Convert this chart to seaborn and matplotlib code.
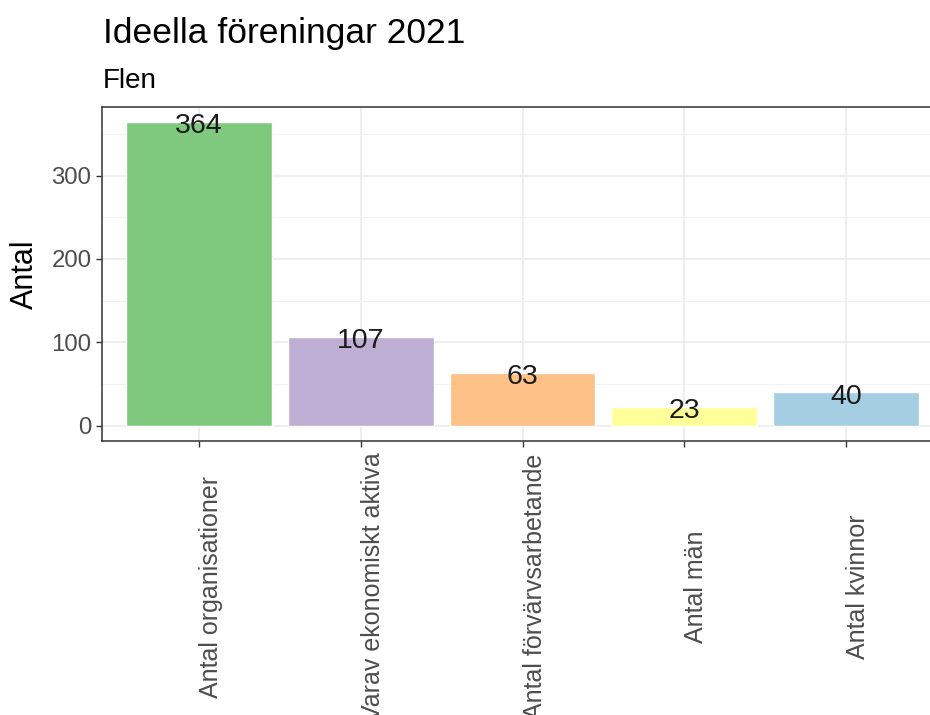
import matplotlib
matplotlib.use("Agg")
import matplotlib.pyplot as plt
import matplotlib.transforms as mtransforms
import seaborn as sns
import pandas as pd
from matplotlib.ticker import MultipleLocator

categories = ["Antal organisationer", "Varav ekonomiskt aktiva",
              "Antal förvärvsarbetande", "Antal män", "Antal kvinnor"]
values = [364, 107, 63, 23, 40]
colors = ["#7FC97F", "#BEAED4", "#FDC086", "#FFFF99", "#A6CEE3"]
title = "Ideella föreningar 2021"
subtitle = "Flen"
ylabel = "Antal"

sns.set_theme(style="white")
plt.rcParams["font.family"] = ["Liberation Sans", "DejaVu Sans"]

df = pd.DataFrame({"cat": categories, "val": values})

W, H = 930, 715
fig = plt.figure(figsize=(W / 100, H / 100), dpi=100)
left, right, top, bottom = 102, 943, 107, 441
ax = fig.add_axes([left / W, 1 - bottom / H, (right - left) / W, (bottom - top) / H])

sns.barplot(data=df, x="cat", y="val", hue="cat", palette=colors,
            order=categories, hue_order=categories, width=0.9,
            legend=False, saturation=1, ax=ax, zorder=2)

ax.set_xlim(-0.6, len(categories) - 0.4)
ax.set_ylim(-18.2, 382.2)
ax.yaxis.set_major_locator(MultipleLocator(100))
ax.yaxis.set_minor_locator(MultipleLocator(50))

ax.grid(True, which="major", color="#EBEBEB", linewidth=1.2, zorder=0)
ax.grid(True, which="minor", axis="y", color="#F2F2F2", linewidth=0.7, zorder=0)
ax.set_axisbelow(True)

for s in ax.spines.values():
    s.set_color("#333333")
    s.set_linewidth(1.1)

ax.tick_params(axis="both", which="major", length=4, width=1, color="#333333",
               labelcolor="#4D4D4D", direction="out")
ax.tick_params(axis="y", which="major", labelsize=17.3)
ax.tick_params(axis="x", which="major", labelsize=18, pad=101)
ax.tick_params(axis="y", which="minor", length=0)
ax.tick_params(left=True, bottom=True)
shift = mtransforms.ScaledTranslation(12 / 100, 0, fig.dpi_scale_trans)
for lbl in ax.get_xticklabels():
    lbl.set_rotation(90)
    lbl.set_va("center")
    lbl.set_ha("center")
    lbl.set_transform(lbl.get_transform() + shift)

for i, v in enumerate(values):
    ax.annotate(str(v), (i, v), xytext=(0, -3), textcoords="offset points",
                ha="center", va="center", fontsize=20.5, color="#1A1A1A")

ax.set_xlabel("")
ax.set_ylabel(ylabel, fontsize=22, color="black", labelpad=8)

fig.text(left / W + 0.001, 1 - 43 / H, title, fontsize=25.5, ha="left",
         va="baseline", color="black")
fig.text(left / W + 0.001, 1 - 88 / H, subtitle, fontsize=20, ha="left",
         va="baseline", color="black")

fig.savefig("out.png", dpi=100)
